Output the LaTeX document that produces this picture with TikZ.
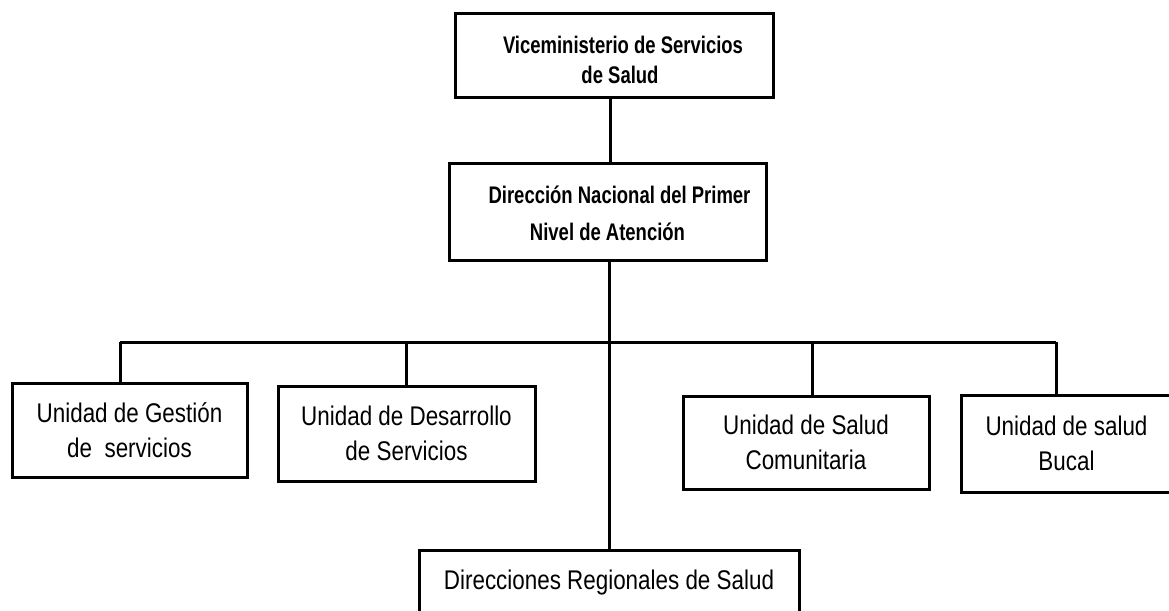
\documentclass[tikz,border=0pt]{standalone}
\usepackage{fontspec}
\setmainfont{Liberation Sans}[FakeStretch=0.83]
\newfontfamily\headfont{Liberation Sans}[FakeStretch=0.77]
\begin{document}
\begin{tikzpicture}[x=1pt,y=-1pt,
  box/.style={draw, line width=3pt, align=center, inner sep=0pt, fill=white},
  conn/.style={line width=3pt},
  reg/.style={font=\fontsize{27}{35}\selectfont},
  hd/.style={align=center, inner sep=0pt, font=\headfont\bfseries\fontsize{24}{30}\selectfont},
  hdb/.style={align=center, inner sep=0pt, font=\headfont\bfseries\fontsize{24}{37}\selectfont}]
\fill[white] (0,0) rectangle (1169,610);
\clip (0,0) rectangle (1169,610);
\useasboundingbox (0,0) rectangle (1169,610);
% boxes
\node[box, minimum width=318pt, minimum height=83pt,
  label={[hd, xshift=6pt, yshift=-4pt]center:{\hspace*{6pt}Viceministerio de Servicios\\de Salud}}] (v) at (614,55.5) {};
\node[box, minimum width=317pt, minimum height=97pt,
  label={[hdb, yshift=-2pt]center:{\hspace*{24pt}Dirección Nacional del Primer\\Nivel de Atención}}] (n) at (607.5,211.5) {};
\node[box, reg, minimum width=235pt, minimum height=94pt] (g) at (129.5,430)
  {Unidad de Gestión\\de\ \ servicios};
\node[box, reg, minimum width=257pt, minimum height=95pt] (d) at (406.5,433.5)
  {Unidad de Desarrollo\\de Servicios};
\node[box, reg, minimum width=246pt, minimum height=93pt] (c) at (806,442.5)
  {Unidad de Salud\\Comunitaria};
\node[box, reg, minimum width=211pt, minimum height=97pt] (b) at (1066.5,443.5)
  {Unidad de salud\\Bucal};
\node[box, reg, anchor=north, minimum width=380pt, inner ysep=20pt, text height=19pt, text depth=40pt] (r) at (609,549)
  {Direcciones Regionales de Salud};
% connectors
\coordinate (x1) at (610,0);
\coordinate (x2) at (609,0);
\coordinate (bl) at (120,342);
\coordinate (br) at (1056,342);
\coordinate (jd) at (406,342);
\coordinate (jc) at (812,342);
\draw[conn] (x1 |- v.south) -- (x1 |- n.north);
\draw[conn] (x2 |- n.south) -- (x2 |- r.north);
\draw[conn] (bl) -- (br);
\draw[conn] (bl) -- (bl |- g.north);
\draw[conn] (jd) -- (jd |- d.north);
\draw[conn] (jc) -- (jc |- c.north);
\draw[conn] (br) -- (br |- b.north);
\end{tikzpicture}
\end{document}
